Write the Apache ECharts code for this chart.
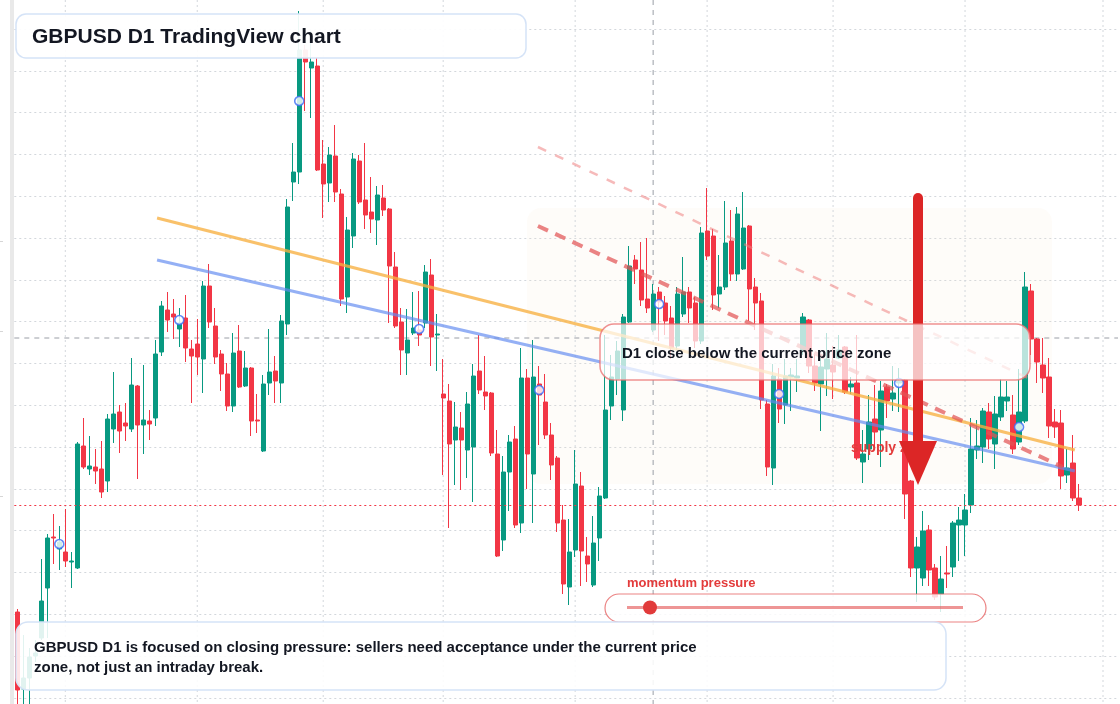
<!DOCTYPE html>
<html>
<head>
<meta charset="utf-8">
<title>GBPUSD D1</title>
<script src="https://cdn.jsdelivr.net/npm/echarts@6.0.0/dist/echarts.min.js"></script>
<style>
  html, body { margin: 0; padding: 0; background: #ffffff; }
  #chart { width: 1120px; height: 704px; }
</style>
</head>
<body>
<div id="chart"></div>
<script>
// daily candles (oldest first)
const opens = [
  1.2793, 1.2716, 1.2727, 1.2749, 1.2767, 1.2817, 1.2868, 1.2856, 1.2853, 1.2843,
  1.2837, 1.2959, 1.2936, 1.2938, 1.2936, 1.2924, 1.2976, 1.2993, 1.2982, 1.2976,
  1.3019, 1.2980, 1.2984, 1.2987, 1.3053, 1.3095, 1.3091, 1.3076, 1.3087, 1.3056,
  1.3061, 1.3046, 1.3119, 1.3079, 1.3051, 1.3031, 1.2999, 1.3054, 1.3019, 1.3037,
  1.2985, 1.2954, 1.3022, 1.3034, 1.3022, 1.3081, 1.3223, 1.3233, 1.3355, 1.3337,
  1.3339, 1.3241, 1.3222, 1.3249, 1.3211, 1.3108, 1.3169, 1.3244, 1.3205, 1.3193,
  1.3185, 1.3207, 1.3196, 1.3138, 1.3083, 1.3052, 1.3072, 1.3075, 1.3082, 1.3130,
  1.3070, 1.3011, 1.3004, 1.2965, 1.2977, 1.2955, 1.2958, 1.3034, 1.3013, 1.3012,
  1.2951, 1.2865, 1.2933, 1.2966, 1.2882, 1.3027, 1.2931, 1.3021, 1.3003, 1.2970,
  1.2947, 1.2885, 1.2818, 1.2855, 1.2919, 1.2849, 1.2820, 1.2867, 1.2907, 1.2999,
  1.3026, 1.2995, 1.3083, 1.3145, 1.3135, 1.3106, 1.3075, 1.3113, 1.3102, 1.3087,
  1.3059, 1.3091, 1.3113, 1.3102, 1.3064, 1.3174, 1.3169, 1.3111, 1.3118, 1.3164,
  1.3131, 1.3136, 1.3179, 1.3118, 1.3104, 1.3001, 1.2937, 1.3026, 1.3000, 1.3028,
  1.3027, 1.3055, 1.3085, 1.3039, 1.3021, 1.3036, 1.3040, 1.3047, 1.3058, 1.3018,
  1.3022, 1.2943, 1.2956, 1.2986, 1.2975, 1.3018, 1.3006, 1.3022, 1.3025, 1.2924,
  1.2837, 1.2827, 1.2875, 1.2837, 1.2811, 1.2832, 1.2838, 1.2880, 1.2880, 1.2900,
  1.2955, 1.2958, 1.2993, 1.2961, 1.2988, 1.3004, 1.2990, 1.2963, 1.2984, 1.3114,
  1.3066, 1.3040, 1.3028, 1.2983, 1.2982, 1.2930, 1.2942, 1.2907
]
const closes = [
  1.2715, 1.2727, 1.2748, 1.2752, 1.2804, 1.2867, 1.2867, 1.2863, 1.2844, 1.2844,
  1.2961, 1.2938, 1.2939, 1.2934, 1.2913, 1.2986, 1.2991, 1.2974, 1.2979, 1.3020,
  1.2980, 1.2985, 1.2981, 1.3051, 1.3099, 1.3085, 1.3088, 1.3082, 1.3057, 1.3049,
  1.3048, 1.3119, 1.3083, 1.3048, 1.3031, 1.2999, 1.3052, 1.3018, 1.3037, 1.2984,
  1.2984, 1.3021, 1.3033, 1.3024, 1.3084, 1.3198, 1.3233, 1.3355, 1.3343, 1.3343,
  1.3235, 1.3221, 1.3250, 1.3213, 1.3106, 1.3175, 1.3246, 1.3203, 1.3190, 1.3186,
  1.3210, 1.3195, 1.3139, 1.3079, 1.3055, 1.3065, 1.3077, 1.3070, 1.3133, 1.3068,
  1.3071, 1.3007, 1.2961, 1.2978, 1.2965, 1.3001, 1.3029, 1.3015, 1.3009, 1.2952,
  1.2849, 1.2933, 1.2963, 1.2880, 1.3027, 1.2951, 1.3028, 1.3010, 1.2970, 1.2940,
  1.2882, 1.2821, 1.2853, 1.2921, 1.2854, 1.2841, 1.2862, 1.2909, 1.2995, 1.3028,
  1.3054, 1.3088, 1.3139, 1.3136, 1.3105, 1.3097, 1.3111, 1.3103, 1.3084, 1.3057,
  1.3111, 1.3113, 1.3097, 1.3064, 1.3172, 1.3149, 1.3110, 1.3118, 1.3162, 1.3131,
  1.3191, 1.3177, 1.3116, 1.3102, 1.3005, 1.2938, 1.3029, 1.2996, 1.3029, 1.3030,
  1.3029, 1.3088, 1.3039, 1.3022, 1.3038, 1.3046, 1.3033, 1.3055, 1.3013, 1.3021,
  1.2947, 1.2951, 1.2983, 1.2973, 1.3014, 1.3004, 1.3012, 1.3024, 1.2911, 1.2837,
  1.2858, 1.2874, 1.2835, 1.2808, 1.2826, 1.2831, 1.2882, 1.2885, 1.2895, 1.2956,
  1.2959, 1.2994, 1.2966, 1.2991, 1.3008, 1.3008, 1.2956, 1.2993, 1.3118, 1.3066,
  1.3043, 1.3027, 1.2979, 1.2978, 1.2929, 1.2937, 1.2907, 1.2900
]
const lows = [
  1.2701, 1.2701, 1.2701, 1.2743, 1.2765, 1.2767, 1.2841, 1.2835, 1.2838, 1.2817,
  1.2836, 1.2936, 1.2930, 1.2921, 1.2907, 1.2913, 1.2962, 1.2952, 1.2964, 1.2973,
  1.2926, 1.2951, 1.2965, 1.2979, 1.3049, 1.3073, 1.3066, 1.3058, 1.3043, 1.3002,
  1.3030, 1.3012, 1.3077, 1.3041, 1.3014, 1.2994, 1.2993, 1.3017, 1.3018, 1.2969,
  1.2972, 1.2953, 1.3010, 1.3002, 1.3002, 1.3070, 1.3204, 1.3221, 1.3294, 1.3287,
  1.3234, 1.3187, 1.3203, 1.3203, 1.3099, 1.3092, 1.3157, 1.3201, 1.3176, 1.3172,
  1.3160, 1.3189, 1.3082, 1.3077, 1.3030, 1.3030, 1.3070, 1.3059, 1.3077, 1.3039,
  1.3034, 1.2930, 1.2877, 1.2920, 1.2915, 1.2927, 1.2903, 1.3011, 1.2995, 1.2949,
  1.2848, 1.2854, 1.2894, 1.2877, 1.2872, 1.2916, 1.2882, 1.2960, 1.2966, 1.2925,
  1.2873, 1.2811, 1.2800, 1.2848, 1.2819, 1.2823, 1.2818, 1.2844, 1.2906, 1.2985,
  1.3010, 1.2984, 1.3082, 1.3121, 1.3099, 1.3092, 1.3073, 1.3064, 1.3070, 1.3046,
  1.3055, 1.3088, 1.3082, 1.3057, 1.3061, 1.3145, 1.3095, 1.3097, 1.3115, 1.3124,
  1.3124, 1.3135, 1.3084, 1.3075, 1.2996, 1.2929, 1.2920, 1.2982, 1.2981, 1.2994,
  1.3013, 1.3050, 1.3032, 1.3014, 1.2974, 1.3009, 1.3006, 1.3046, 1.3011, 1.3011,
  1.2945, 1.2922, 1.2945, 1.2957, 1.2938, 1.2987, 1.2994, 1.2993, 1.2886, 1.2828,
  1.2803, 1.2819, 1.2819, 1.2805, 1.2793, 1.2817, 1.2828, 1.2844, 1.2849, 1.2892,
  1.2946, 1.2942, 1.2956, 1.2936, 1.2984, 1.2994, 1.2951, 1.2960, 1.2982, 1.3050,
  1.3022, 1.3012, 1.2967, 1.2967, 1.2916, 1.2922, 1.2904, 1.2894
]
const highs = [
  1.2796, 1.2770, 1.2757, 1.2765, 1.2846, 1.2871, 1.2891, 1.2879, 1.2896, 1.2853,
  1.2963, 1.2987, 1.2969, 1.2956, 1.2964, 1.2991, 1.3033, 1.3000, 1.3002, 1.3047,
  1.3020, 1.3040, 1.2995, 1.3065, 1.3104, 1.3113, 1.3106, 1.3097, 1.3110, 1.3065,
  1.3086, 1.3124, 1.3141, 1.3097, 1.3055, 1.3042, 1.3072, 1.3080, 1.3054, 1.3038,
  1.3011, 1.3030, 1.3076, 1.3049, 1.3090, 1.3206, 1.3262, 1.3394, 1.3360, 1.3374,
  1.3347, 1.3265, 1.3258, 1.3280, 1.3216, 1.3188, 1.3252, 1.3250, 1.3262, 1.3228,
  1.3219, 1.3220, 1.3197, 1.3153, 1.3097, 1.3096, 1.3113, 1.3114, 1.3140, 1.3146,
  1.3091, 1.3046, 1.3021, 1.3003, 1.2993, 1.3013, 1.3041, 1.3070, 1.3049, 1.3013,
  1.2975, 1.2949, 1.2970, 1.2979, 1.3057, 1.3036, 1.3065, 1.3039, 1.3031, 1.2982,
  1.2949, 1.2900, 1.2886, 1.2955, 1.2933, 1.2868, 1.2889, 1.2918, 1.3070, 1.3050,
  1.3064, 1.3091, 1.3159, 1.3150, 1.3163, 1.3167, 1.3121, 1.3118, 1.3109, 1.3099,
  1.3118, 1.3148, 1.3118, 1.3108, 1.3178, 1.3217, 1.3176, 1.3150, 1.3204, 1.3195,
  1.3198, 1.3213, 1.3180, 1.3127, 1.3112, 1.3005, 1.3041, 1.3037, 1.3046, 1.3037,
  1.3046, 1.3092, 1.3086, 1.3050, 1.3050, 1.3072, 1.3059, 1.3070, 1.3059, 1.3028,
  1.3070, 1.2975, 1.3010, 1.3020, 1.3024, 1.3021, 1.3039, 1.3037, 1.3026, 1.2925,
  1.2868, 1.2894, 1.2880, 1.2841, 1.2849, 1.2859, 1.2884, 1.2898, 1.2911, 1.2987,
  1.2985, 1.2997, 1.3002, 1.3009, 1.3026, 1.3024, 1.3010, 1.3036, 1.3133, 1.3121,
  1.3067, 1.3067, 1.3047, 1.2996, 1.2995, 1.2956, 1.2970, 1.2921
]

// sampled points drawn as hollow circles [bar index, price]
const markerPoints = [
  [7, 1.2861], [27, 1.3085], [47, 1.3304], [67, 1.3076], [87, 1.3015],
  [107, 1.3101], [127, 1.3011], [147, 1.3022], [167, 1.2978]
]

// hand drawn lines [bar index, price]
const orangeLine = [[23.3, 1.3187], [176.3, 1.2955]]
const blueLine = [[23.3, 1.3145], [176.3, 1.2934]]
const supplyLine = [[86.8, 1.3179], [174.3, 1.2938]]
const upperLine = [[86.8, 1.3258], [169.9, 1.3023]]

const monthStarts = [8, 30, 51, 71, 93, 115, 136, 158, 181]
const crossBar = 106
const crossPrice = 1.3067
const futureSlots = 6

const slots = []
for (let i = 0; i < opens.length + futureSlots; i++) {
  slots.push(String(i))
}

const candles = []
for (let i = 0; i < opens.length; i++) {
  candles.push([opens[i], closes[i], lows[i], highs[i]])
}
const lastClose = closes[closes.length - 1]

const priceTop = 1.3405
const priceBottom = 1.2701
const slotFirst = -0.5
const slotLast = slots.length - 0.5

// vertical rules, broken with '-' between them
const monthRules = []
monthStarts.forEach(function (m) {
  monthRules.push([m, priceTop], [m, priceBottom], [m, '-'])
})
const crossRules = [
  [crossBar, priceTop], [crossBar, priceBottom], [crossBar, '-'],
  [slotFirst, crossPrice], [slotLast, crossPrice]
]

const font = '"Liberation Sans", Arial, sans-serif'
const dark = '#131722'

const gridDots = { color: '#d3d7dc', type: [2, 3], width: 1 }

function ruleSeries (data, lineStyle, z) {
  return {
    type: 'line',
    xAxisIndex: 1,
    data: data,
    symbol: 'none',
    connectNulls: false,
    clip: false,
    silent: true,
    z: z,
    lineStyle: lineStyle
  }
}

function trendSeries (data, lineStyle) {
  return {
    type: 'line',
    xAxisIndex: 1,
    data: data,
    symbol: 'none',
    silent: true,
    z: 4,
    lineStyle: lineStyle
  }
}

const chart = echarts.init(document.getElementById('chart'))

chart.setOption({
  animation: false,
  backgroundColor: '#ffffff',
  grid: { left: 14.3, right: 2, top: 29, bottom: 6.2 },
  xAxis: [
    {
      type: 'category',
      data: slots,
      boundaryGap: true,
      axisLine: { show: false },
      axisTick: { show: false },
      axisLabel: { show: false },
      splitLine: { show: false }
    },
    {
      type: 'value',
      min: slotFirst,
      max: slotLast,
      show: false
    }
  ],
  yAxis: {
    type: 'value',
    min: 1.27072,
    max: 1.3376,
    interval: 0.00418,
    axisLine: { show: false },
    axisTick: { show: false },
    axisLabel: { show: false },
    splitLine: { show: true, lineStyle: gridDots }
  },
  series: [
    ruleSeries(monthRules, gridDots, 1),
    ruleSeries(crossRules, { color: '#9a9ea6', type: [5, 5], width: 1 }, 2),
    {
      name: 'GBPUSD',
      type: 'candlestick',
      data: candles,
      barWidth: '78%',
      clip: false,
      z: 3,
      itemStyle: {
        color: '#089981',
        color0: '#f23645',
        borderColor: '#089981',
        borderColor0: '#f23645',
        borderWidth: 1
      },
      markLine: {
        silent: true,
        symbol: ['none', 'none'],
        label: { show: false },
        lineStyle: { color: '#f23645', type: [2, 3], width: 1 },
        data: [{ yAxis: lastClose }]
      }
    },
    trendSeries(orangeLine, { color: 'rgba(247, 176, 64, 0.78)', width: 3 }),
    trendSeries(blueLine, { color: 'rgba(98, 138, 240, 0.68)', width: 3 }),
    trendSeries(supplyLine, { color: 'rgba(226, 84, 84, 0.72)', width: 4, type: [11, 8] }),
    trendSeries(upperLine, { color: 'rgba(238, 130, 130, 0.55)', width: 2.5, type: [9, 10] }),
    {
      type: 'scatter',
      data: markerPoints,
      symbol: 'circle',
      symbolSize: 9,
      silent: true,
      z: 5,
      itemStyle: { color: '#ffffff', borderColor: '#3a6cf4', borderWidth: 1.6 }
    }
  ],
  graphic: [
    { type: 'rect', z: 0, shape: { x: 10, y: 0, width: 4, height: 704 }, style: { fill: '#e9e9e9' } },
    { type: 'rect', z: 0, shape: { x: 0, y: 241, width: 3, height: 1 }, style: { fill: '#d6d6d6' } },
    { type: 'rect', z: 0, shape: { x: 0, y: 331, width: 3, height: 1 }, style: { fill: '#d6d6d6' } },
    { type: 'rect', z: 0, shape: { x: 0, y: 496, width: 3, height: 1 }, style: { fill: '#d6d6d6' } },
    // price zone
    {
      type: 'rect', z: 1,
      shape: { x: 527, y: 208, width: 525, height: 276, r: 14 },
      style: { fill: 'rgba(250, 230, 212, 0.13)' }
    },
    {
      type: 'text', z: 10, x: 851, y: 448,
      style: {
        text: 'supply zone', font: 'bold 14px ' + font, fill: '#e33b3b',
        textVerticalAlign: 'middle', verticalAlign: 'middle'
      }
    },
    // down arrow
    {
      type: 'line', z: 11,
      shape: { x1: 918, y1: 198, x2: 918, y2: 446 },
      style: { stroke: '#dc2626', lineWidth: 10, lineCap: 'round' }
    },
    {
      type: 'polygon', z: 11,
      shape: { points: [[899, 441], [937, 441], [918, 485]] },
      style: { fill: '#dc2626' }
    },
    // callout
    {
      type: 'rect', z: 12,
      shape: { x: 600, y: 324, width: 430, height: 56, r: 14 },
      style: { fill: 'rgba(255, 255, 255, 0.72)', stroke: 'rgba(234, 110, 110, 0.75)', lineWidth: 1.5 }
    },
    {
      type: 'text', z: 13, x: 622, y: 354,
      style: {
        text: 'D1 close below the current price zone', font: 'bold 15px ' + font, fill: dark,
        textVerticalAlign: 'middle', verticalAlign: 'middle'
      }
    },
    // momentum pressure gauge
    {
      type: 'text', z: 12, x: 627, y: 583,
      style: {
        text: 'momentum pressure', font: 'bold 13px ' + font, fill: '#e33b3b',
        textVerticalAlign: 'middle', verticalAlign: 'middle'
      }
    },
    {
      type: 'rect', z: 12,
      shape: { x: 605, y: 594, width: 381, height: 28, r: 14 },
      style: { fill: 'rgba(255, 255, 255, 0.82)', stroke: 'rgba(230, 100, 100, 0.8)', lineWidth: 1.2 }
    },
    {
      type: 'line', z: 13,
      shape: { x1: 627, y1: 607.5, x2: 963, y2: 607.5 },
      style: { stroke: 'rgba(228, 84, 84, 0.62)', lineWidth: 3 }
    },
    {
      type: 'circle', z: 14,
      shape: { cx: 650, cy: 607.5, r: 7 },
      style: { fill: '#e13a3a' }
    },
    // title
    {
      type: 'rect', z: 15,
      shape: { x: 16, y: 14, width: 510, height: 44, r: 10 },
      style: { fill: 'rgba(255, 255, 255, 0.93)', stroke: '#d5e3f7', lineWidth: 1.5 }
    },
    {
      type: 'text', z: 16, x: 32, y: 37,
      style: {
        text: 'GBPUSD D1 TradingView chart', font: 'bold 21px ' + font, fill: dark,
        textVerticalAlign: 'middle', verticalAlign: 'middle'
      }
    },
    // note
    {
      type: 'rect', z: 15,
      shape: { x: 16, y: 622, width: 930, height: 68, r: 12 },
      style: { fill: 'rgba(255, 255, 255, 0.88)', stroke: '#d5e3f7', lineWidth: 1.5 }
    },
    {
      type: 'text', z: 16, x: 34, y: 658,
      style: {
        text: 'GBPUSD D1 is focused on closing pressure: sellers need acceptance under the current price\nzone, not just an intraday break.',
        font: 'bold 15px ' + font, fill: dark, lineHeight: 20,
        textVerticalAlign: 'middle', verticalAlign: 'middle'
      }
    }
  ]
})

window.addEventListener('resize', function () {
  chart.resize()
})
</script>
</body>
</html>
